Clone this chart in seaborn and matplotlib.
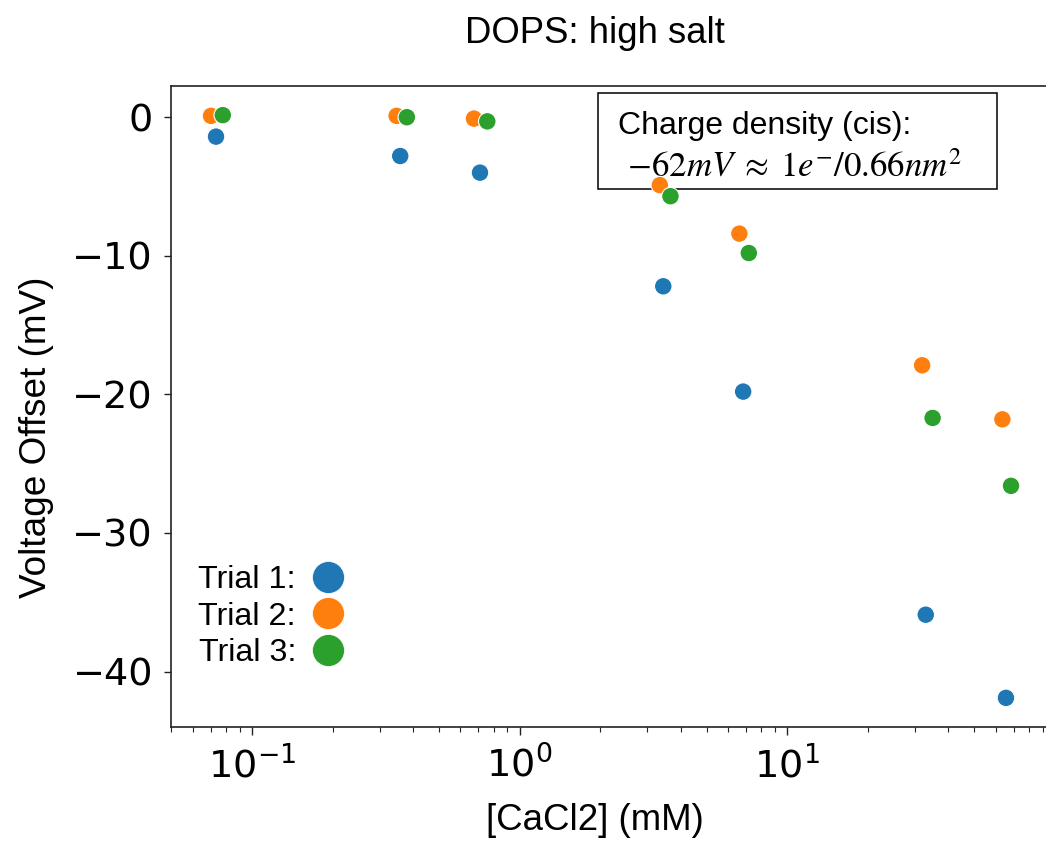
import matplotlib
matplotlib.use("Agg")
import matplotlib.pyplot as plt
from matplotlib.lines import Line2D
from matplotlib.offsetbox import (AnchoredOffsetbox, TextArea, VPacker,
                                  HPacker, DrawingArea)
import seaborn as sns
import pandas as pd

# CaCl2 concentration (mM) for each trial, with the voltage offsets measured (mV)
trial1_conc = [0.0734, 0.358, 0.711, 3.44, 6.84, 32.9, 65.6]
trial1_offset = [-1.4, -2.8, -4.0, -12.2, -19.8, -35.9, -41.9]

trial2_conc = [0.0703, 0.347, 0.675, 3.34, 6.62, 31.9, 63.6]
trial2_offset = [0.1, 0.1, -0.1, -4.9, -8.4, -17.9, -21.8]

trial3_conc = [0.0778, 0.379, 0.757, 3.66, 7.18, 34.9, 68.5]
trial3_offset = [0.15, 0.0, -0.3, -5.7, -9.8, -21.7, -26.6]

trial_names = ["Trial 1:", "Trial 2:", "Trial 3:"]
colors = ["#1f77b4", "#ff7f0e", "#2ca02c"]

frames = []
for name, conc, off in zip(trial_names,
                           [trial1_conc, trial2_conc, trial3_conc],
                           [trial1_offset, trial2_offset, trial3_offset]):
    frames.append(pd.DataFrame({"conc": conc, "offset": off, "trial": name}))
df = pd.concat(frames, ignore_index=True)

sns.set_theme(style="ticks")
plt.rcParams.update({
    "text.color": "black",
    "axes.labelcolor": "black",
    "axes.edgecolor": "#222222",
    "axes.linewidth": 1.2,
    "xtick.color": "#222222",
    "ytick.color": "#222222",
    "xtick.labelcolor": "black",
    "ytick.labelcolor": "black",
    "xtick.major.size": 5.5,
    "xtick.minor.size": 3.8,
    "ytick.major.size": 5.0,
    "xtick.major.width": 1.0,
    "xtick.minor.width": 0.8,
    "ytick.major.width": 1.0,
    "xtick.major.pad": 8,
    "ytick.major.pad": 8,
    "xtick.labelsize": 27.5,
    "ytick.labelsize": 27.5,
    "axes.spines.top": True,
    "axes.spines.right": True,
})
plt.rcParams["font.family"] = ["DejaVu Sans"]

W, H = 1046, 844
fig = plt.figure(figsize=(W / 100, H / 100), dpi=100)
ax = fig.add_axes([171 / W, (H - 727) / H, (1051 - 171) / W, (727 - 86) / H])

sns.scatterplot(data=df, x="conc", y="offset", hue="trial",
                palette=colors, s=160, edgecolor="white", linewidth=0.8,
                legend=False, ax=ax)
ax.set_xscale("log")
ax.autoscale_view()

label_font = dict(family=["Liberation Sans", "DejaVu Sans"], color="black")
ax.set_title("DOPS: high salt", fontsize=26.3, pad=31, x=0.482, **label_font)
ax.set_xlabel("[CaCl2] (mM)", fontsize=26.4, **label_font)
ax.set_ylabel("Voltage Offset (mV)", fontsize=26.6, **label_font)
ax.xaxis.set_label_coords(0.482, -0.1186)
ax.yaxis.set_label_coords(-0.133, 0.452)

handles = [Line2D([], [], marker="o", linestyle="", markersize=23,
                  markerfacecolor=c, markeredgecolor="white",
                  markeredgewidth=0.5)
           for c in colors]
ax.legend(handles, trial_names, loc="lower left",
          bbox_to_anchor=(0.0166, 0.072), markerfirst=False, frameon=False,
          prop={"family": "Liberation Sans", "size": 23.2},
          handletextpad=0.5, handlelength=1.0, labelspacing=0.2,
          borderaxespad=0.0)

# Annotation box with the charge density estimate (packer sizes in points)
line1 = TextArea("Charge density (cis):",
                 textprops=dict(size=23, family="Liberation Sans",
                                color="black"))
line2 = TextArea(" $-\\mathit{62mV}\\;\\approx\\;\\mathit{1e}^{-}/\\mathit{0.66nm}^{2}$",
                 textprops=dict(size=25, family="Liberation Sans",
                                math_fontfamily="stix", color="black"))
text_lines = VPacker(children=[line1, line2], align="left", pad=0, sep=6.5)
stacked = VPacker(children=[DrawingArea(1, 9.9), text_lines,
                            DrawingArea(1, 0.6)],
                  align="left", pad=0, sep=0)
content = HPacker(children=[DrawingArea(11, 1), stacked, DrawingArea(20.9, 1)],
                  align="top", pad=0, sep=0)
note = AnchoredOffsetbox(loc="upper left", child=content, pad=0.36,
                         borderpad=0.0, frameon=True,
                         prop=dict(size=10),
                         bbox_to_anchor=(0.4852, 0.9895),
                         bbox_transform=ax.transAxes)
note.patch.set_boxstyle("square", pad=0)
note.patch.set_edgecolor("black")
note.patch.set_facecolor("white")
note.patch.set_linewidth(1.1)
# keep the box beneath the data points
note.set_zorder(0.5)
ax.add_artist(note)

fig.savefig("out.png", dpi=100)
